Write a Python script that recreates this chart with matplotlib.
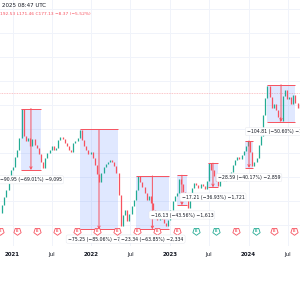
import pandas as pd
import matplotlib
matplotlib.use("Agg")
import matplotlib.pyplot as plt
import matplotlib.transforms as mtransforms

# closes every 10 days (log price scale)
start_date = "2020-11-04"
closes = [
    18.0, 21.0, 24.5, 27.9, 35.1, 40.9, 43.3, 52.4, 59.8, 75.2,
    130.5, 78.1, 71.0, 75.2, 64.5, 73.8, 65.8, 62.1, 55.4, 47.6,
    42.5, 51.4, 56.5, 59.8, 64.5, 59.8, 62.1, 72.4, 76.6, 73.8,
    68.3, 64.5, 59.8, 57.6, 68.3, 71.0, 75.2, 87.5, 72.4, 64.5,
    59.8, 55.4, 57.6, 51.4, 45.0, 37.9, 32.5, 38.6, 43.3, 45.8,
    47.6, 49.5, 47.6, 44.1, 38.6, 25.4, 14.1, 17.4, 19.1, 15.5,
    17.7, 20.6, 23.1, 27.9, 36.5, 32.5, 29.6, 26.4, 23.1, 24.9,
    21.8, 19.1, 17.4, 15.8, 16.7, 16.1, 14.9, 14.1, 15.8, 19.1,
    22.7, 24.9, 26.4, 34.4, 31.3, 26.9, 23.1, 19.8, 25.4, 29.0,
    31.9, 30.7, 29.0, 31.3, 30.2, 28.5, 33.2, 46.7, 40.9, 36.5,
    33.2, 30.2, 33.8, 35.1, 33.2, 34.4, 37.2, 39.4, 45.0, 49.5,
    52.4, 50.4, 54.4, 58.7, 64.5, 71.0, 57.6, 44.1, 47.6, 51.4,
    65.8, 78.1, 116.5, 160.9, 202.2, 164.0, 133.0, 143.6, 128.0, 112.0,
    103.9, 167.2, 187.0, 157.9, 164.0, 143.6, 170.3, 146.0, 133.0, 143.6,
]
last_price = 177.13

# horizontal grid levels of the log price scale
grid_prices = [875, 554, 351, 222, 141, 89.3, 56.6, 35.8, 22.7, 14.4]

# price range measurements drawn on the chart
box_start = ["2021-02-09", "2021-11-10", "2022-07-27", "2023-02-02",
             "2023-06-26", "2023-12-15", "2024-03-26"]
box_end = ["2021-05-13", "2022-05-05", "2022-12-27", "2023-03-21",
           "2023-08-12", "2024-01-21", "2024-08-03"]
box_top = [131.8, 88.47, 36.55, 37.03, 46.60, 71.17, 207.13]
box_bottom = [40.85, 13.22, 13.21, 20.90, 29.39, 42.58, 102.32]
box_labels = [
    "\u221290.95 (\u221269.01%) \u22129,095",
    "\u221275.25 (\u221285.06%) \u22127,525",
    "\u221223.34 (\u221263.85%) \u22122,334",
    "\u221216.13 (\u221243.56%) \u22121,613",
    "\u221217.21 (\u221236.93%) \u22121,721",
    "\u221228.59 (\u221240.17%) \u22122,859",
    "\u2212104.81 (\u221250.60%) \u221210,481",
]

# earnings markers: g = beat, r = miss
earn_dates = ["2020-11-04", "2021-01-22", "2021-04-25", "2021-07-26",
              "2021-10-27", "2022-01-28", "2022-04-30", "2022-08-01",
              "2022-11-01", "2023-02-02", "2023-05-01", "2023-08-02",
              "2023-11-03", "2024-02-03", "2024-04-27", "2024-07-29"]
earn_result = ["r", "r", "r", "r", "r", "r", "r", "r",
               "r", "r", "g", "g", "r", "g", "r", "r"]

tick_dates = ["2021-01-01", "2021-07-01", "2022-01-01", "2022-07-01",
              "2023-01-01", "2023-07-01", "2024-01-01", "2024-07-01"]
tick_labels = ["2021", "Jul", "2022", "Jul", "2023", "Jul", "2024", "Jul"]

GREEN = "#22ab94"
RED = "#f7525f"
TEXT = "#131722"
GRID = "#f0f3fa"

dates = pd.date_range(start_date, periods=len(closes), freq="10D")

fig = plt.figure(figsize=(3, 3), dpi=100)
ax = fig.add_axes([0, 0.18, 1, 0.82])
ax.set_yscale("log")
ax.set_xlim(pd.Timestamp("2020-11-04"), pd.Timestamp("2024-08-26"))
ax.set_ylim(9.63, 1039)
for s in ax.spines.values():
    s.set_visible(False)

# grid
for d in tick_dates:
    ax.axvline(pd.Timestamp(d), color=GRID, lw=0.7, zorder=0)
for p in grid_prices:
    ax.axhline(p, color=GRID, lw=0.7, zorder=0)
ax.tick_params(axis="y", left=False, labelleft=False, which="both")
ax.yaxis.set_minor_locator(plt.NullLocator())
ax.set_yticks([])

# candles: open = previous close
for i in range(1, len(closes)):
    o, c = closes[i - 1], closes[i]
    col = GREEN if c >= o else RED
    ax.vlines(dates[i], min(o, c), max(o, c), color=col, lw=0.9, zorder=3)

# last price line
ax.axhline(last_price, color=RED, lw=0.6, ls=(0, (1, 1)), alpha=0.45, zorder=2)

# measurement boxes
for i in range(len(box_labels)):
    x0 = pd.Timestamp(box_start[i])
    x1 = pd.Timestamp(box_end[i])
    xm = x0 + (x1 - x0) / 2
    ax.fill_between([x0, x1], box_bottom[i], box_top[i],
                    color="#2962ff", alpha=0.14, lw=0, zorder=2)
    ax.hlines([box_top[i], box_bottom[i]], x0, x1, color=RED, lw=0.7, zorder=4)
    ax.annotate("", xy=(xm, box_bottom[i]), xytext=(xm, box_top[i]),
                arrowprops=dict(arrowstyle="->", color=RED, lw=0.7,
                                mutation_scale=4, shrinkA=0, shrinkB=0),
                zorder=4)
    ax.annotate(box_labels[i], xy=(xm, box_bottom[i]), xytext=(0, -7),
                textcoords="offset points", ha="center", va="center",
                fontsize=3.3, color=TEXT, zorder=6 + i,
                bbox=dict(boxstyle="round,pad=0.35", fc="white",
                          ec="#e0e3eb", lw=0.3))

# earnings badges along the bottom of the pane
trans = mtransforms.blended_transform_factory(ax.transData, ax.transAxes)
for d, r in zip(earn_dates, earn_result):
    col = GREEN if r == "g" else RED
    ax.scatter(pd.Timestamp(d), 0.061, transform=trans, marker=(5, 0, 180),
               s=30, facecolor="white", edgecolor=col, lw=0.6, zorder=7,
               clip_on=False)
    ax.text(pd.Timestamp(d), 0.063, "E", transform=trans, fontsize=2.6,
            color=col, ha="center", va="center", zorder=8, fontweight="bold")

# time axis
ax.set_xticks([pd.Timestamp(d) for d in tick_dates])
ax.set_xticklabels(tick_labels, fontsize=4, color=TEXT)
ax.tick_params(axis="x", length=0, pad=4.5)
for lab in ax.get_xticklabels():
    if lab.get_text() != "Jul":
        lab.set_fontweight("bold")

# legend header
fig.text(0.005, 0.983, "2025 08:47 UTC", fontsize=4, color=TEXT,
         ha="left", va="center")
fig.text(0.0, 0.953, "192.53 L171.46 C177.13 \u22128.37 (\u22125.52%)",
         fontsize=3.2, color=RED, ha="left", va="center")

fig.savefig("out.png", dpi=100, facecolor="white")
